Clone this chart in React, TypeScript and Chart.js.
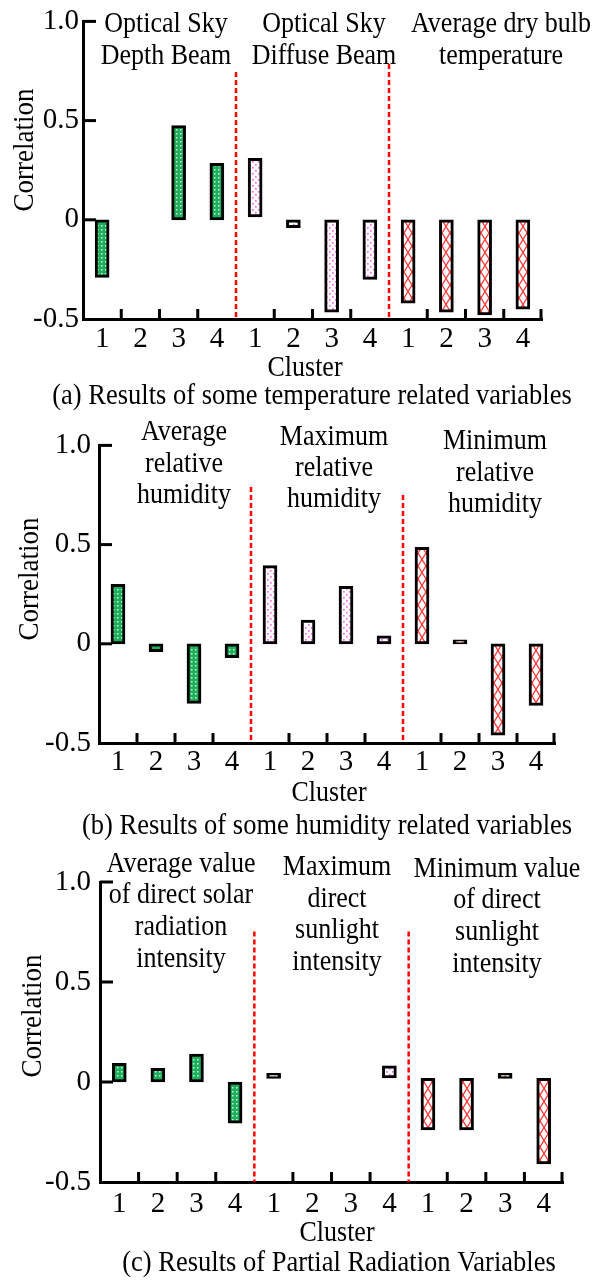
import React, { useEffect, useRef } from 'react';
import { Chart, registerables } from 'chart.js';

Chart.register(...registerables);

// ---------- data ----------
const clusters = ['1', '2', '3', '4'];
const yTickLabels = ['-0.5', '0', '0.5', '1.0'];
const yAxisTitle = 'Correlation';
const xAxisTitle = 'Cluster';

// (a) temperature related variables: [start, end] of each bar
const aVariableNames = [
  ['Optical Sky', 'Depth Beam'],
  ['Optical Sky', 'Diffuse Beam'],
  ['Average dry bulb', 'temperature'],
];
const aDepthBeam = [[0, -0.29], null, [0, 0.475], [0, 0.285]];
const aDiffuseBeam = [[0.015, 0.31], [0, -0.04], [0, -0.465], [0, -0.3]];
const aDryBulb = [[0, -0.42], [0, -0.465], [0, -0.48], [0, -0.45]];
const aSeparatorTops = [0.745, 0.785];
const aCaption = '(a) Results of some temperature related variables';

// (b) humidity related variables
const bVariableNames = [
  ['Average', 'relative', 'humidity'],
  ['Maximum', 'relative', 'humidity'],
  ['Minimum', 'relative', 'humidity'],
];
const bAvgRH = [[0, 0.3], [0, -0.04], [0, -0.3], [0, -0.07]];
const bMaxRH = [[0, 0.394], [0, 0.119], [0, 0.29], [0, 0.04]];
const bMinRH = [[0, 0.486], [0, 0.02], [0, -0.46], [0, -0.31]];
const bSeparatorTops = [0.79, 0.75];
const bCaption = '(b) Results of some humidity related variables';

// (c) partial radiation variables
const cVariableNames = [
  ['Average value', 'of direct solar', 'radiation', 'intensity'],
  ['Maximum', 'direct', 'sunlight', 'intensity'],
  ['Minimum value', 'of direct', 'sunlight', 'intensity'],
];
const cAvgDirect = [[0, 0.093], [0, 0.068], [0, 0.14], [0, -0.206]];
const cMaxDirect = [[0.018, 0.043], null, null, [0.021, 0.081]];
const cMinDirect = [[0.018, -0.24], [0.018, -0.24], [0.018, 0.043], [0.018, -0.41]];
const cSeparatorTops = [0.753, 0.753];
const cCaption = '(c) Results of Partial Radiation Variables';

// ---------- layout / style ----------
const FONT = '"Liberation Serif", "Times New Roman", serif';
const W = 608;
const TEXT_STRETCH = 1.14;
const BAR_W = 14;
const BAR_BORDER = 3;

const layoutA = {
  top: 0, height: 420,
  area: { left: 83, top: 19, right: 542, bottom: 319 },
  yTickPad: 4, xTickPad: 3,
  titleX: [166, 324, 501],
  titleBase: [[32, 64], [32, 64], [32, 64]],
  yTitle: [25, 150], xTitle: [305, 376], caption: [312, 404],
};
const layoutB = {
  top: 420, height: 430,
  area: { left: 99, top: 23, right: 555, bottom: 323 },
  yTickPad: 8, xTickPad: 2,
  titleX: [184, 334, 495],
  titleBase: [[20, 52, 83], [25, 56, 87], [29, 61, 92]],
  yTitle: [30, 159], xTitle: [329, 381], caption: [327, 414],
};
const layoutC = {
  top: 850, height: 430,
  area: { left: 100, top: 32, right: 563, bottom: 332 },
  yTickPad: 9, xTickPad: 5,
  titleX: [181, 337, 497],
  titleBase: [[22, 53, 85, 117], [25, 57, 88, 120], [27, 58, 90, 122]],
  yTitle: [33, 166], xTitle: [337, 391], caption: [339, 421],
};

function makeTiles() {
  const green = document.createElement('canvas');
  green.width = 4; green.height = 4;
  const g = green.getContext('2d')!;
  g.fillStyle = '#1faf5c'; g.fillRect(0, 0, 4, 4);
  g.fillStyle = 'rgba(235,255,240,0.85)'; g.fillRect(1, 1, 1.5, 1.5);

  const pink = document.createElement('canvas');
  pink.width = 6; pink.height = 6;
  const p = pink.getContext('2d')!;
  p.fillStyle = '#ffffff'; p.fillRect(0, 0, 6, 6);
  p.fillStyle = '#f46ee6'; p.fillRect(1, 1, 1.7, 1.7); p.fillRect(4, 4, 1.7, 1.7);

  const inner = BAR_W - 2 * BAR_BORDER;
  const red = document.createElement('canvas');
  red.width = inner; red.height = 13;
  const r = red.getContext('2d')!;
  r.fillStyle = '#ffffff'; r.fillRect(0, 0, inner, 13);
  r.strokeStyle = '#ff3a3a'; r.lineWidth = 1.3;
  r.beginPath(); r.moveTo(0, 0); r.lineTo(inner, 13); r.moveTo(inner, 0); r.lineTo(0, 13); r.stroke();

  return [green, pink, red];
}

function stretchedText(ctx: CanvasRenderingContext2D, t: string, x: number, y: number) {
  ctx.save();
  ctx.translate(x, y);
  ctx.scale(1, TEXT_STRETCH);
  ctx.fillText(t, 0, 0);
  ctx.restore();
}

const overlayPlugin = {
  id: 'overlay',
  afterDraw(chart: any, _args: any, opts: any) {
    const { ctx, chartArea } = chart;
    const xs = chart.scales.x;
    const ys = chart.scales.y;
    const L = opts.layout;
    const n = chart.data.labels.length;
    ctx.save();
    // inner y ticks
    ctx.strokeStyle = '#000';
    ctx.lineWidth = 3;
    ctx.lineCap = 'butt';
    ctx.setLineDash([]);
    for (const v of [1, 0.5, 0]) {
      const py = ys.getPixelForValue(v);
      ctx.beginPath();
      ctx.moveTo(chartArea.left, py);
      ctx.lineTo(chartArea.left + 13, py);
      ctx.stroke();
    }
    // inner x ticks at category boundaries
    const sepIdx = [3, 7];
    for (let i = 0; i < n; i++) {
      if (sepIdx.includes(i)) continue;
      const px = i === n - 1 ? chartArea.right - 1 : xs.getPixelForValue(i + 0.5);
      ctx.beginPath();
      ctx.moveTo(px, chartArea.bottom);
      ctx.lineTo(px, chartArea.bottom - 10);
      ctx.stroke();
    }
    // red dashed separators
    ctx.strokeStyle = '#ff0000';
    ctx.lineWidth = 2.5;
    ctx.setLineDash([5, 3]);
    sepIdx.forEach((i, k) => {
      const px = xs.getPixelForValue(i + 0.5);
      ctx.beginPath();
      ctx.moveTo(px, ys.getPixelForValue(opts.sepTops[k]));
      ctx.lineTo(px, chartArea.bottom);
      ctx.stroke();
    });
    ctx.setLineDash([]);
    // texts
    ctx.fillStyle = '#000';
    ctx.font = `26px ${FONT}`;
    ctx.textAlign = 'center';
    ctx.textBaseline = 'alphabetic';
    opts.names.forEach((lines: string[], gi: number) => {
      lines.forEach((t, li) => {
        stretchedText(ctx, t, L.titleX[gi], L.titleBase[gi][li]);
      });
    });
    stretchedText(ctx, xAxisTitle, L.xTitle[0], L.xTitle[1]);
    ctx.font = `26.5px ${FONT}`;
    stretchedText(ctx, opts.caption, L.caption[0], L.caption[1]);
    ctx.save();
    ctx.font = `27px ${FONT}`;
    ctx.textBaseline = 'middle';
    ctx.translate(L.yTitle[0], L.yTitle[1]);
    ctx.rotate(-Math.PI / 2);
    ctx.scale(1, 1.1);
    ctx.fillText(yAxisTitle, 0, 0);
    ctx.restore();
    ctx.restore();
  },
};

function Panel({ layout, series, names, sepTops, caption }: any) {
  const ref = useRef<HTMLCanvasElement>(null);
  useEffect(() => {
    const canvas = ref.current!;
    const ctx = canvas.getContext('2d')!;
    const tiles = makeTiles();
    const fallback = tiles.map((t) => ctx.createPattern(t, 'repeat')!);
    const cache: Record<string, CanvasPattern> = {};
    const labels: string[] = [];
    names.forEach(() => clusters.forEach((c) => labels.push(c)));
    const datasets = series.map((vals: any[], gi: number) => {
      const data: any[] = labels.map(() => null);
      vals.forEach((v, ci) => { data[gi * clusters.length + ci] = v; });
      return {
        label: names[gi].join(' '),
        data,
        // pattern anchored to each bar's inner left edge
        backgroundColor: (c: any) => {
          const xs = c.chart.scales && c.chart.scales.x;
          const ys = c.chart.scales && c.chart.scales.y;
          if (!xs || !ys || c.dataIndex === undefined) return fallback[gi];
          const key = gi + ':' + c.dataIndex;
          if (!cache[key]) {
            const pat = ctx.createPattern(tiles[gi], 'repeat')!;
            const left = Math.round(xs.getPixelForValue(c.dataIndex) - BAR_W / 2 + BAR_BORDER);
            const top = Math.round(ys.getPixelForValue(0));
            pat.setTransform(new DOMMatrix([1, 0, 0, 1, left, top]));
            cache[key] = pat;
          }
          return cache[key];
        },
        borderColor: '#000',
        borderWidth: BAR_BORDER,
        borderSkipped: false,
        barThickness: BAR_W,
        grouped: false,
      };
    });
    const A = layout.area;
    const chart = new Chart(ctx, {
      type: 'bar',
      data: { labels, datasets },
      plugins: [overlayPlugin],
      options: {
        responsive: false,
        animation: false,
        devicePixelRatio: 1,
        layout: { padding: { left: 0, top: A.top, right: W - A.right, bottom: 0 } },
        plugins: {
          legend: { display: false },
          tooltip: { enabled: false },
          overlay: { layout, names, sepTops, caption },
        } as any,
        scales: {
          x: {
            type: 'category',
            offset: true,
            grid: { display: false, drawTicks: false },
            border: { display: true, color: '#000', width: 3 },
            ticks: {
              color: '#000',
              font: { family: FONT, size: 29 },
              padding: layout.xTickPad,
              maxRotation: 0,
              autoSkip: false,
            },
            afterFit: (s: any) => { s.height = layout.height - A.bottom; },
          },
          y: {
            type: 'linear',
            min: -0.5,
            max: 1,
            grid: { display: false, drawTicks: false },
            border: { display: true, color: '#000', width: 3 },
            ticks: {
              stepSize: 0.5,
              color: '#000',
              font: { family: FONT, size: 29 },
              padding: layout.yTickPad,
              callback: (_v: any, i: number) => yTickLabels[i],
            },
            afterFit: (s: any) => { s.width = A.left; },
          },
        },
      },
    });
    return () => chart.destroy();
  }, []);
  return (
    <canvas
      ref={ref}
      width={W}
      height={layout.height}
      style={{ position: 'absolute', left: 0, top: layout.top, width: W, height: layout.height }}
    />
  );
}

export default function App() {
  return (
    <div style={{ position: 'absolute', left: 0, top: 0, width: W, height: 1280, background: '#fff' }}>
      <Panel layout={layoutA} series={[aDepthBeam, aDiffuseBeam, aDryBulb]} names={aVariableNames} sepTops={aSeparatorTops} caption={aCaption} />
      <Panel layout={layoutB} series={[bAvgRH, bMaxRH, bMinRH]} names={bVariableNames} sepTops={bSeparatorTops} caption={bCaption} />
      <Panel layout={layoutC} series={[cAvgDirect, cMaxDirect, cMinDirect]} names={cVariableNames} sepTops={cSeparatorTops} caption={cCaption} />
    </div>
  );
}
